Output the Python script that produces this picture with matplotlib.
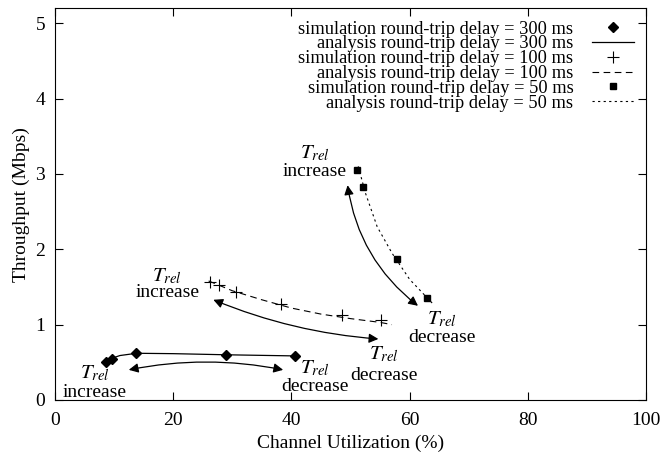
import matplotlib.pyplot as plt
from matplotlib.patches import FancyArrowPatch

plt.rcParams['font.family'] = ['Liberation Serif', 'DejaVu Serif']
plt.rcParams['mathtext.fontset'] = 'stix'

# simulation points (channel utilization %, throughput Mbps)
sim300_x = [8.7, 9.6, 13.8, 28.9, 40.6]
sim300_y = [0.51, 0.54, 0.62, 0.60, 0.59]
sim100_x = [26.3, 27.7, 30.7, 38.2, 48.6, 55.1]
sim100_y = [1.56, 1.52, 1.43, 1.28, 1.13, 1.06]
sim50_x = [51.1, 52.1, 57.9, 63.0]
sim50_y = [3.05, 2.83, 1.87, 1.35]

# analysis curves
ana300_x = [8.5, 9.5, 11.0, 13.8, 20.0, 29.0, 40.6]
ana300_y = [0.51, 0.55, 0.59, 0.62, 0.615, 0.60, 0.585]
ana100_x = [26.0, 30.0, 35.0, 40.0, 45.0, 50.0, 55.0, 57.0]
ana100_y = [1.58, 1.45, 1.33, 1.22, 1.14, 1.08, 1.03, 1.0]
ana50_x = [51.3, 52.5, 54.5, 57.0, 60.0, 64.0]
ana50_y = [3.1, 2.75, 2.3, 1.95, 1.6, 1.27]

fig = plt.figure(figsize=(6.69, 4.53), dpi=100)
ax = fig.add_axes([0.082, 0.117, 0.884, 0.865])

ax.plot(sim300_x, sim300_y, linestyle='none', marker='D', markersize=5.5,
        color='black', label='simulation round-trip delay = 300 ms')
ax.plot(ana300_x, ana300_y, '-', color='black', lw=0.9,
        label='analysis round-trip delay = 300 ms')
ax.plot(sim100_x, sim100_y, linestyle='none', marker='+', markersize=8,
        mew=0.8, color='black', label='simulation round-trip delay = 100 ms')
ax.plot(ana100_x, ana100_y, color='black', lw=0.8, dashes=(6, 4),
        label='analysis round-trip delay = 100 ms')
ax.plot(sim50_x, sim50_y, linestyle='none', marker='s', markersize=5,
        color='black', label='simulation round-trip delay = 50 ms')
ax.plot(ana50_x, ana50_y, color='black', lw=0.8, dashes=(2, 3),
        label='analysis round-trip delay = 50 ms')

# double-headed arrows showing the direction of T_rel change
arrows = [((12.5, 0.40), (38.6, 0.40), -0.1),
          ((26.8, 1.33), (54.7, 0.81), 0.08),
          ((49.5, 2.85), (61.4, 1.25), 0.2)]
for a, b, rad in arrows:
    ax.add_patch(FancyArrowPatch(a, b, arrowstyle='<|-|>', mutation_scale=14,
                                 connectionstyle=f'arc3,rad={rad}',
                                 shrinkA=0, shrinkB=0, color='black', lw=0.9))

labels = [(6.7, 0.35, 0.10, 'increase'),
          (44.0, 0.42, 0.18, 'decrease'),
          (55.6, 0.60, 0.33, 'decrease'),
          (19.0, 1.64, 1.42, 'increase'),
          (44.0, 3.27, 3.03, 'increase'),
          (65.4, 1.07, 0.83, 'decrease')]
for x, yt, yw, word in labels:
    ax.text(x, yt, r'$T_{rel}$', ha='center', va='center', fontsize=15)
    ax.text(x, yw, word, ha='center', va='center', fontsize=14)

ax.set_xlim(0, 100)
ax.set_ylim(0, 5.2)
ax.set_xticks([0, 20, 40, 60, 80, 100])
ax.set_yticks([0, 1, 2, 3, 4, 5])
ax.tick_params(direction='in', length=6, top=True, right=True, labelsize=14, width=0.8)
ax.tick_params(axis='x', pad=9)
ax.tick_params(axis='y', pad=7)
ax.set_xlabel('Channel Utilization (%)', fontsize=14, labelpad=4)
ax.set_ylabel('Throughput (Mbps)', fontsize=14, labelpad=4)
for s in ax.spines.values():
    s.set_linewidth(0.8)

ax.legend(loc='upper right', frameon=False, markerfirst=False, fontsize=13.2,
          labelspacing=-0.12, handlelength=2.3, handletextpad=1.0,
          borderaxespad=0.38, borderpad=0.3, alignment='right')

plt.savefig('out.png', dpi=100)
